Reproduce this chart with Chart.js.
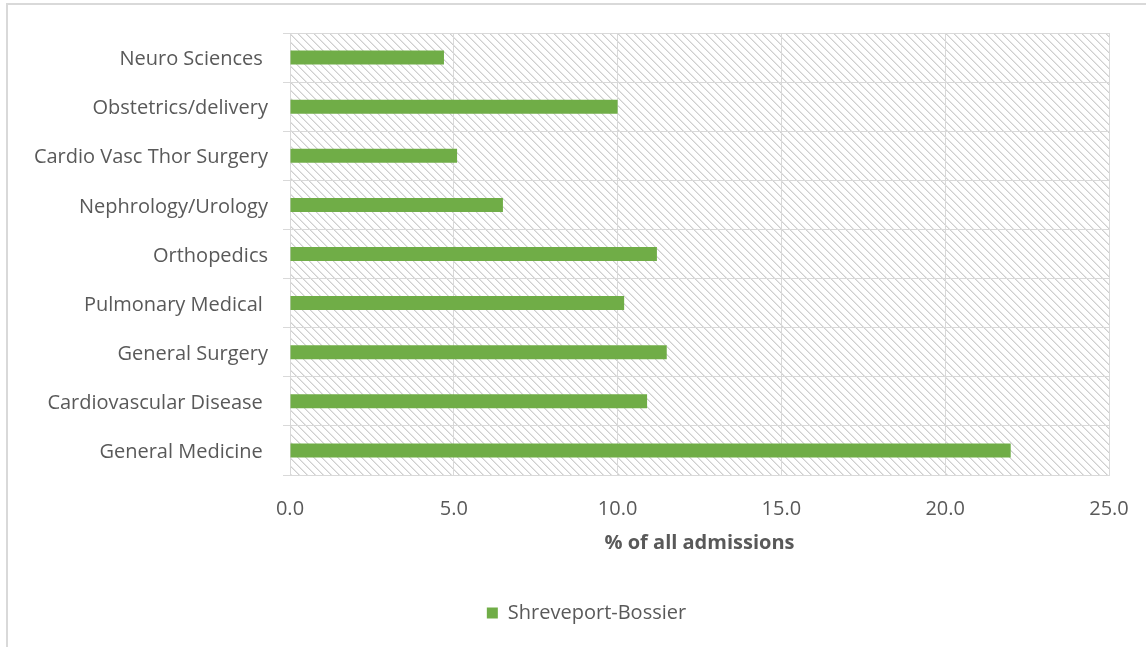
<!DOCTYPE html>
<html>
<head>
<meta charset="utf-8">
<script src="https://cdn.jsdelivr.net/npm/chart.js@4"></script>
<style>
body { margin: 0; background: #fff; }
#ramka { position: absolute; left: 6px; top: 3px; width: 1150px; height: 660px; border-left: 2px solid #d9d9d9; border-top: 2px solid #d9d9d9; }
#wrap { position: absolute; left: 0; top: 0; width: 1146px; height: 647px; }
</style>
</head>
<body>
<div id="ramka"></div>
<div id="wrap"><canvas id="chart"></canvas></div>
<script>
// Отделения (сверху вниз)
const otdeleniya = [
  "Neuro Sciences ",
  "Obstetrics/delivery",
  "Cardio Vasc Thor Surgery",
  "Nephrology/Urology",
  "Orthopedics",
  "Pulmonary Medical ",
  "General Surgery",
  "Cardiovascular Disease ",
  "General Medicine "
];
// Доля от всех госпитализаций, %
const dolya = [4.7, 10.0, 5.1, 6.5, 11.2, 10.2, 11.5, 10.9, 22.0];
const nazvanieRyada = "Shreveport-Bossier";
const osX = [0, 5, 10, 15, 20, 25];

const shrift = "'Open Sans', sans-serif";
const seryi = "#595959";

// штриховка фона области графика
function sdelatShtrihovku() {
  const c = document.createElement("canvas");
  c.width = 8; c.height = 8;
  const g = c.getContext("2d");
  g.fillStyle = "#ffffff";
  g.fillRect(0, 0, 8, 8);
  for (let i = 0; i < 8; i++) {
    g.fillStyle = "#cfcfcf";
    g.fillRect(i, i, 1, 1);
    g.fillStyle = "#e6e6e6";
    g.fillRect((i + 1) % 8, i, 1, 1);
  }
  return c;
}

const fonPlugin = {
  id: "fon",
  // легенду немного вправо, ближе к центру области графика
  afterLayout(chart) {
    chart.legend.left += 27;
    chart.legend.right += 27;
  },
  beforeDraw(chart) {
    const a = chart.chartArea;
    const ctx = chart.ctx;
    ctx.save();
    ctx.fillStyle = ctx.createPattern(sdelatShtrihovku(), "repeat");
    ctx.fillRect(a.left, a.top, a.right - a.left, a.bottom - a.top);
    ctx.restore();
  }
};

window.onload = () => {
  new Chart(document.getElementById("chart"), {
    type: "bar",
    data: {
      labels: otdeleniya,
      datasets: [{
        label: nazvanieRyada,
        data: dolya,
        backgroundColor: "#70ad47",
        borderWidth: 0,
        barPercentage: 0.285,
        categoryPercentage: 1
      }]
    },
    options: {
      indexAxis: "y",
      responsive: true,
      maintainAspectRatio: false,
      animation: false,
      layout: { padding: { left: 10, right: 37, top: 33, bottom: 14 } },
      scales: {
        x: {
          min: 0,
          max: 25,
          afterBuildTicks: (s) => { s.ticks = osX.map(v => ({ value: v })); },
          afterFit: (s) => {
            s.height = 102;
            s.paddingLeft = 0;
            s.paddingRight = 0;
          },
          grid: { color: "#d9d9d9", drawTicks: false },
          border: { color: "#d9d9d9" },
          ticks: {
            padding: 22,
            color: seryi,
            font: { family: shrift, size: 20 },
            callback: (v) => Number(v).toFixed(1)
          },
          title: {
            display: true,
            text: "% of all admissions",
            color: seryi,
            font: { family: shrift, size: 20, weight: "bold" },
            padding: { top: 0, bottom: 22 }
          }
        },
        y: {
          afterFit: (s) => { s.width = 280; },
          grid: { color: "#d9d9d9", tickLength: 7 },
          border: { color: "#d9d9d9" },
          ticks: {
            padding: 15,
            labelOffset: 2,
            color: seryi,
            font: { family: shrift, size: 20 }
          }
        }
      },
      plugins: {
        legend: {
          position: "bottom",
          labels: {
            boxWidth: 11,
            boxHeight: 11,
            padding: 26,
            color: seryi,
            font: { family: shrift, size: 20 }
          }
        },
        tooltip: { enabled: false }
      }
    },
    plugins: [fonPlugin]
  });
};
</script>
</body>
</html>
